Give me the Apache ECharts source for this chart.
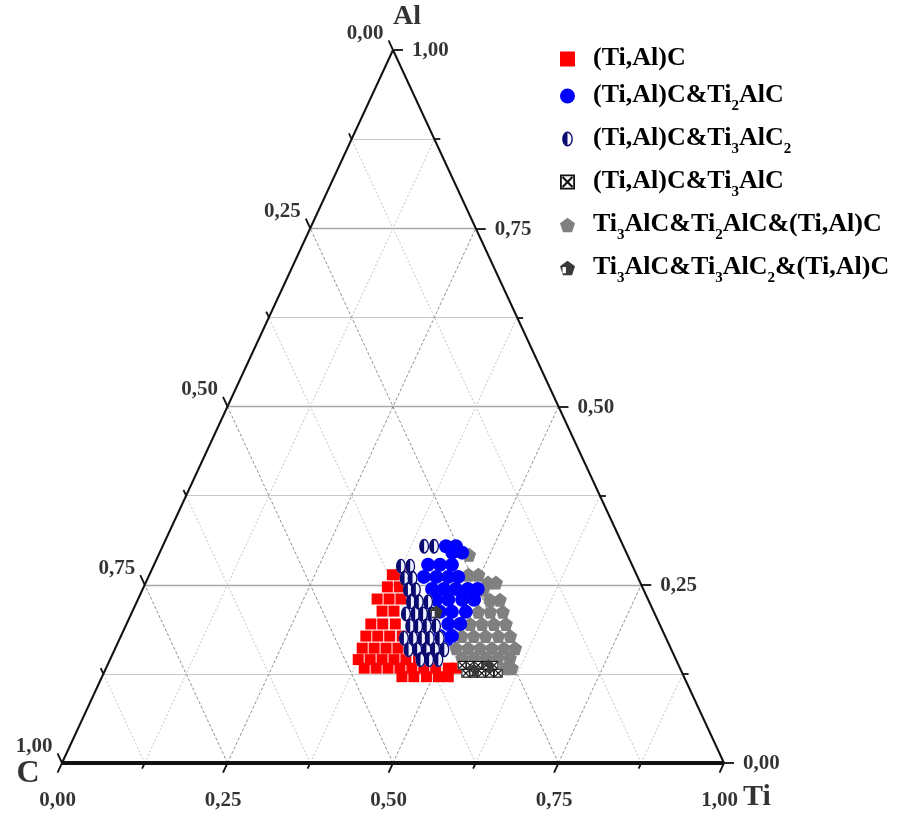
<!DOCTYPE html>
<html><head><meta charset="utf-8">
<script src="https://cdn.jsdelivr.net/npm/echarts@6/dist/echarts.min.js"></script>
<style>html,body{margin:0;padding:0;background:#fff}#c{width:897px;height:814px}</style>
</head><body><div id="c"></div>
<script>
// ---- axis ticks / labels ----
const tickValues = [0, 0.125, 0.25, 0.375, 0.5, 0.625, 0.75, 0.875, 1];
const labelValues = [0, 0.25, 0.5, 0.75, 1];
const labelTexts = ['0,00', '0,25', '0,50', '0,75', '1,00'];
const vertexTitles = ['Al', 'C', 'Ti'];

// ---- series names (underscore + digit = subscript) ----
const seriesNames = [
  '(Ti,Al)C',
  '(Ti,Al)C&Ti_2AlC',
  '(Ti,Al)C&Ti_3AlC_2',
  '(Ti,Al)C&Ti_3AlC',
  'Ti_3AlC&Ti_2AlC&(Ti,Al)C',
  'Ti_3AlC&Ti_3AlC_2&(Ti,Al)C'
];

// ---- data: [Ti, Al] mole fractions (C = 1 - Ti - Al) ----
const tiAlC = [[0.367,0.264],[0.379,0.264],[0.368,0.247],[0.386,0.247],[0.361,0.230],[0.379,0.230],[0.397,0.230],[0.377,0.213],[0.395,0.213],[0.369,0.195],[0.387,0.195],[0.406,0.195],[0.370,0.178],[0.388,0.178],[0.406,0.178],[0.425,0.178],[0.373,0.161],[0.391,0.161],[0.409,0.161],[0.427,0.161],[0.445,0.161],[0.375,0.145],[0.393,0.145],[0.411,0.145],[0.429,0.145],[0.447,0.145],[0.466,0.145],[0.390,0.133],[0.408,0.133],[0.426,0.133],[0.444,0.133],[0.462,0.133],[0.480,0.133],[0.498,0.133],[0.517,0.133],[0.529,0.133],[0.453,0.121],[0.471,0.121],[0.490,0.121],[0.508,0.121],[0.523,0.121]];
const tiAlC_Ti2AlC = [[0.428,0.304],[0.443,0.304],[0.442,0.295],[0.457,0.295],[0.414,0.278],[0.432,0.278],[0.450,0.278],[0.416,0.261],[0.435,0.261],[0.453,0.261],[0.468,0.261],[0.437,0.244],[0.455,0.244],[0.473,0.244],[0.491,0.244],[0.506,0.244],[0.451,0.229],[0.469,0.229],[0.490,0.229],[0.508,0.229],[0.465,0.212],[0.483,0.212],[0.504,0.212],[0.486,0.195],[0.504,0.195],[0.482,0.178],[0.500,0.178],[0.495,0.173]];
const tiAlC_Ti3AlC2 = [[0.395,0.304],[0.410,0.304],[0.374,0.276],[0.388,0.276],[0.388,0.259],[0.400,0.259],[0.401,0.243],[0.413,0.243],[0.414,0.226],[0.426,0.226],[0.440,0.226],[0.415,0.209],[0.429,0.209],[0.441,0.209],[0.454,0.209],[0.430,0.192],[0.442,0.192],[0.455,0.192],[0.469,0.192],[0.429,0.175],[0.443,0.175],[0.456,0.175],[0.468,0.175],[0.483,0.175],[0.444,0.159],[0.457,0.159],[0.471,0.159],[0.484,0.159],[0.498,0.159],[0.469,0.145],[0.482,0.145],[0.496,0.145]];
const tiAlC_Ti3AlC = [[0.536,0.137],[0.548,0.137],[0.560,0.137],[0.572,0.137],[0.584,0.137],[0.547,0.126],[0.559,0.126],[0.571,0.126],[0.583,0.126],[0.596,0.126]];
const ti3AlC_Ti2AlC_tiAlC = [[0.469,0.292],[0.482,0.264],[0.497,0.264],[0.517,0.253],[0.529,0.253],[0.515,0.243],[0.532,0.229],[0.547,0.229],[0.523,0.212],[0.541,0.212],[0.560,0.212],[0.519,0.195],[0.537,0.195],[0.555,0.195],[0.573,0.195],[0.515,0.178],[0.533,0.178],[0.551,0.178],[0.570,0.178],[0.588,0.178],[0.515,0.161],[0.533,0.161],[0.551,0.161],[0.569,0.161],[0.587,0.161],[0.604,0.161],[0.531,0.147],[0.549,0.147],[0.567,0.147],[0.585,0.147],[0.603,0.147],[0.603,0.133],[0.613,0.133]];
const ti3AlC_Ti3AlC2_tiAlC = [[0.459,0.212],[0.557,0.130],[0.576,0.136]];

// ---- helpers ----
function toXY(ti, al) { return [ti + al / 2, al]; }
function pts(arr) { return arr.map(d => toXY(d[0], d[1])); }
const isMajor = v => Math.abs(v * 4 - Math.round(v * 4)) < 1e-9;
const inner = tickValues.filter(v => v > 0 && v < 1);

function seg(a, b) { return { coords: [a, b] }; }
const hMaj = [], hMin = [], sMaj = [], sMin = [];
inner.forEach(v => {
  (isMajor(v) ? hMaj : hMin).push(seg(toXY(0, v), toXY(1 - v, v)));          // Al = v
  (isMajor(v) ? sMaj : sMin).push(seg(toXY(v, 0), toXY(v, 1 - v)));          // Ti = v
  (isMajor(v) ? sMaj : sMin).push(seg(toXY(1 - v, 0), toXY(0, 1 - v)));      // C = v
});

// tick marks (pixel lengths converted to data units: x 662px, y 713px)
const dMaj = 0.0135, dMin = 0.008, hxMaj = 0.0151, hxMin = 0.009;
const ticks = [];
const bottomEnds = {}, leftEnds = {}, rightEnds = {};
tickValues.forEach(v => {
  const m = isMajor(v);
  const d = m ? dMaj : dMin, hx = m ? hxMaj : hxMin;
  let p = toXY(v, 0); let e = [p[0] - d / 2, p[1] - d]; ticks.push(seg(p, e)); bottomEnds[v] = e;
  p = toXY(0, 1 - v); e = [p[0] - d / 2, p[1] + d]; ticks.push(seg(p, e)); leftEnds[v] = e;
  p = toXY(1 - v, v); e = [p[0] + hx, p[1]]; ticks.push(seg(p, e)); rightEnds[v] = e;
});

const V_C = toXY(0, 0), V_Ti = toXY(1, 0), V_Al = toXY(0, 1);
const font = 'Liberation Serif';

function lineSeries(data, style, z) {
  return { type: 'lines', coordinateSystem: 'cartesian2d', silent: true, clip: false, z: z || 1,
    data: data, lineStyle: Object.assign({ opacity: 1 }, style), animation: false };
}
function labelSeries(items, lab) {
  return { type: 'scatter', silent: true, clip: false, z: 10, symbolSize: 1,
    itemStyle: { color: 'rgba(0,0,0,0)' },
    data: items.map(it => ({ value: it[0], name: it[1] })),
    label: Object.assign({ show: true, position: 'inside', formatter: '{b}', color: '#000',
      fontFamily: font, fontWeight: 'bold', fontSize: 21 }, lab) };
}
function dataSeries(name, symbol, size, color, arr) {
  return { name: name, type: 'scatter', z: 4, clip: false, symbol: symbol, symbolSize: size,
    itemStyle: { color: color, opacity: 1 }, data: pts(arr) };
}

const halfPath = 'path://M5,14 A5,7 0 0 1 5,0 Z M5,0 A5,7 0 0 1 5,14 A5,7 0 0 1 5,0 Z M5,1.3 A3.7,5.7 0 0 0 5,12.7 A3.7,5.7 0 0 0 5,1.3 Z';
const ellPath = 'path://M5,0 A5,7 0 0 1 5,14 A5,7 0 0 1 5,0 Z';
const crossPath = 'path://M0,0 H10 V10 H0 Z M1.2,1.2 V8.8 H8.8 V1.2 Z M1.2,2.2 L2.2,1.2 L8.8,7.8 L7.8,8.8 Z M7.8,1.2 L8.8,2.2 L2.2,8.8 L1.2,7.8 Z';
const pentPath = 'path://M50,0 L98,35 L79,92 L21,92 L2,35 Z';
const housePath = 'path://M50,0 L98,35 L79,92 L21,92 L2,35 Z M18,40 L18,80 L40,80 L40,40 Z';

const series = [
  lineSeries(hMin, { color: '#c8c8c8', width: 1 }),
  lineSeries(hMaj, { color: '#a8a8a8', width: 1.3 }),
  lineSeries(sMin, { color: '#c4c4c4', width: 1, type: [2, 2] }),
  lineSeries(sMaj, { color: '#909090', width: 1, type: [3, 2] }),
  lineSeries(ticks, { color: '#111', width: 1.8 }, 3),
  lineSeries([seg(V_C, V_Al), seg(V_Al, V_Ti)], { color: '#111', width: 2 }, 3),
  lineSeries([seg(V_C, V_Ti)], { color: '#111', width: 4 }, 3),
  dataSeries(seriesNames[0], 'rect', 11, '#ff0000', tiAlC),
  dataSeries(seriesNames[4], pentPath, 14, '#808080', ti3AlC_Ti2AlC_tiAlC),
  dataSeries(seriesNames[1], 'circle', 14, '#0000ff', tiAlC_Ti2AlC),
  dataSeries('_bgHalf', ellPath, [10, 15], '#eef0ff', tiAlC_Ti3AlC2),
  dataSeries(seriesNames[2], halfPath, [10, 15], '#0a0a70', tiAlC_Ti3AlC2),
  dataSeries('_bgCross', 'rect', 9, '#ffffff', tiAlC_Ti3AlC),
  dataSeries(seriesNames[3], crossPath, 9, '#111111', tiAlC_Ti3AlC),
  dataSeries(seriesNames[5], housePath, 13, '#3a3a3a', ti3AlC_Ti3AlC2_tiAlC),
  // Ti axis (bottom)
  labelSeries(labelValues.map((v, i) => [bottomEnds[v], labelTexts[i]]),
    { align: 'center', verticalAlign: 'top', offset: [0, 17] }),
  // C axis (left)
  labelSeries(labelValues.map((v, i) => [leftEnds[v], labelTexts[i]]),
    { align: 'right', verticalAlign: 'middle', offset: [-5, -7] }),
  // Al axis (right)
  labelSeries(labelValues.map((v, i) => [rightEnds[v], labelTexts[i]]),
    { align: 'left', verticalAlign: 'middle', offset: [9, 1] }),
  labelSeries([[V_Al, vertexTitles[0]]], { fontSize: 28, offset: [14, -33] }),
  labelSeries([[V_C, vertexTitles[1]]], { fontSize: 32, offset: [-34, 11] }),
  labelSeries([[V_Ti, vertexTitles[2]]], { fontSize: 30, offset: [33, 34] })
];

const chart = echarts.init(document.getElementById('c'), null, { renderer: 'canvas' });
chart.setOption({
  animation: false,
  backgroundColor: '#ffffff',
  grid: { left: 62, right: 173, top: 50, bottom: 51, containLabel: false },
  xAxis: { type: 'value', min: 0, max: 1, show: false },
  yAxis: { type: 'value', min: 0, max: 1, show: false },
  legend: {
    orient: 'vertical', left: 555, top: 40, itemWidth: 15, itemHeight: 15, itemGap: 11,
    data: seriesNames, selectedMode: false,
    formatter: n => '{m|' + n.replace(/_(\d)/g, '}{s|$1}{m|') + '}',
    textStyle: {
      padding: [0, 0, 0, 13], color: '#000',
      rich: {
        m: { fontFamily: font, fontWeight: 'bold', fontSize: 26, lineHeight: 28, verticalAlign: 'top', color: '#000' },
        s: { fontFamily: font, fontWeight: 'bold', fontSize: 15, lineHeight: 14, padding: [17, 0, 0, 0], verticalAlign: 'top', color: '#000' }
      }
    }
  },
  series: series
});
</script></body></html>
